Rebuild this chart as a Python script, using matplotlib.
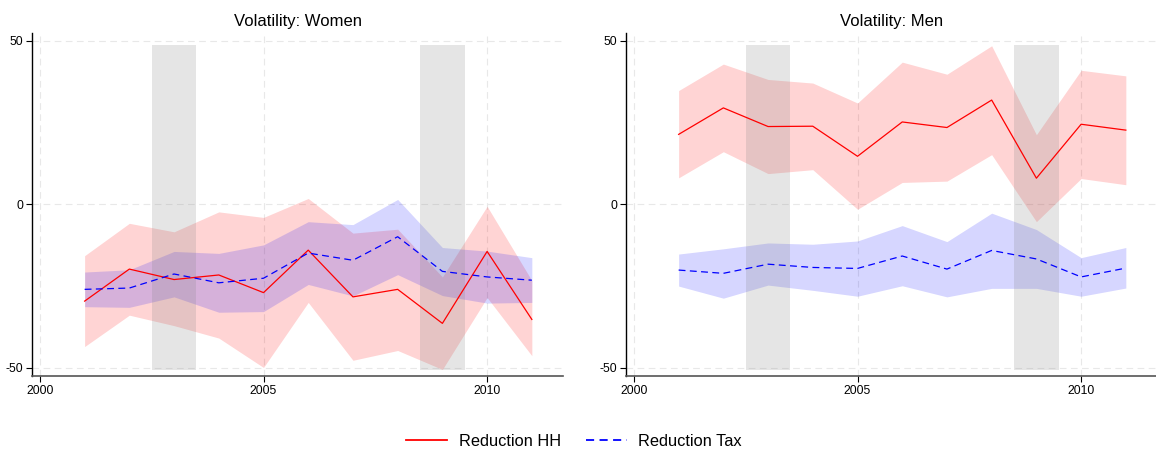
import matplotlib
matplotlib.use("Agg")
import matplotlib.pyplot as plt
from matplotlib.lines import Line2D

plt.rcParams['font.family'] = ['Liberation Sans', 'DejaVu Sans']
plt.rcParams['axes.unicode_minus'] = False

years = [2001, 2002, 2003, 2004, 2005, 2006, 2007, 2008, 2009, 2010, 2011]

# Women
w_hh = [-29.6, -19.8, -23.0, -21.6, -27.0, -14.0, -28.3, -26.0, -36.4, -14.4, -35.2]
w_hh_hi = [-15.7, -5.8, -8.4, -2.3, -4.0, 1.8, -8.8, -7.6, -22.2, -0.6, -23.3]
w_hh_lo = [-43.5, -33.9, -37.1, -40.9, -49.9, -30.0, -47.7, -44.7, -50.5, -28.5, -46.3]
w_tax = [-26.0, -25.6, -21.3, -24.0, -22.6, -14.9, -17.1, -9.9, -20.5, -22.2, -23.2]
w_tax_hi = [-20.7, -20.0, -14.4, -15.0, -12.4, -5.3, -6.2, 1.5, -13.2, -14.3, -16.3]
w_tax_lo = [-31.3, -31.5, -28.3, -33.0, -32.8, -24.5, -28.0, -21.5, -27.9, -30.2, -30.0]

# Men
m_hh = [21.4, 29.5, 23.8, 23.9, 14.7, 25.2, 23.5, 31.9, 8.0, 24.5, 22.7]
m_hh_hi = [34.8, 42.9, 38.2, 37.1, 31.0, 43.5, 39.8, 48.5, 21.3, 41.0, 39.3]
m_hh_lo = [8.1, 16.1, 9.4, 10.6, -1.5, 6.7, 7.1, 15.2, -5.3, 7.9, 6.0]
m_tax = [-20.1, -21.1, -18.3, -19.3, -19.6, -15.8, -19.8, -14.1, -16.7, -22.2, -19.5]
m_tax_hi = [-15.2, -13.6, -11.8, -12.2, -11.2, -6.5, -11.4, -2.7, -7.7, -16.3, -13.2]
m_tax_lo = [-25.0, -28.7, -24.7, -26.3, -28.1, -24.9, -28.3, -25.7, -25.7, -28.1, -25.6]

# Shaded periods
shade_periods = [(2002.5, 2003.5), (2008.5, 2009.5)]
shade_lo, shade_hi = -50.6, 48.8

titles = ["Volatility: Women", "Volatility: Men"]
xticks = [2000, 2005, 2010]
yticks = [-50, 0, 50]
legend_labels = ["Reduction HH", "Reduction Tax"]

fig = plt.figure(figsize=(11.56, 4.5), dpi=100)
W, H = 1156, 450
axw = 530.4 / W
axb = (450 - 376) / H
axh = (376 - 32.7) / H
ax1 = fig.add_axes([32.3 / W, axb, axw, axh])
ax2 = fig.add_axes([626.3 / W, axb, axw, axh])

panels = [
    (ax1, w_hh, w_hh_lo, w_hh_hi, w_tax, w_tax_lo, w_tax_hi),
    (ax2, m_hh, m_hh_lo, m_hh_hi, m_tax, m_tax_lo, m_tax_hi),
]

for i, (ax, hh, hlo, hhi, tx, tlo, thi) in enumerate(panels):
    ax.set_xlim(1999.83, 2011.69)
    ax.set_ylim(-52.5, 52.5)
    for t in xticks:
        ax.axvline(t, color='#e8e8e8', lw=0.8, ls=(0, (6, 4)), zorder=0)
    for t in yticks:
        ax.axhline(t, color='#e8e8e8', lw=0.8, ls=(0, (6, 4)), zorder=0)
    ax.fill_between(years, hlo, hhi, color='red', alpha=0.17, lw=0, zorder=1)
    ax.fill_between(years, tlo, thi, color='blue', alpha=0.16, lw=0, zorder=1)
    for a, b in shade_periods:
        ax.fill_between([a, b], [shade_lo, shade_lo], [shade_hi, shade_hi],
                        color='gray', alpha=0.2, lw=0, zorder=2)
    ax.plot(years, hh, color='red', lw=0.9, zorder=3)
    ax.plot(years, tx, color='blue', lw=0.9, ls=(0, (5.5, 3.5)), zorder=3)
    ax.set_xticks(xticks)
    ax.set_yticks(yticks)
    ax.tick_params(labelsize=8.8, length=4, width=0.8, pad=2.5)
    ax.spines['top'].set_visible(False)
    ax.spines['right'].set_visible(False)
    ax.spines['left'].set_color('black')
    ax.spines['bottom'].set_color('#555555')
    ax.spines['left'].set_linewidth(1.0)
    ax.spines['bottom'].set_linewidth(1.2)
    ax.set_title(titles[i], fontsize=12, pad=5)

handles = [Line2D([], [], color='red', lw=1.3),
           Line2D([], [], color='blue', lw=1.3, ls=(0, (4.5, 3)))]
fig.legend(handles, legend_labels, loc='center', bbox_to_anchor=(0.5 - 4 / W, 0.02),
           ncol=2, frameon=False, fontsize=11.8, handlelength=2.5, columnspacing=1.5,
           handletextpad=0.7)

fig.savefig("out.png", dpi=100)
